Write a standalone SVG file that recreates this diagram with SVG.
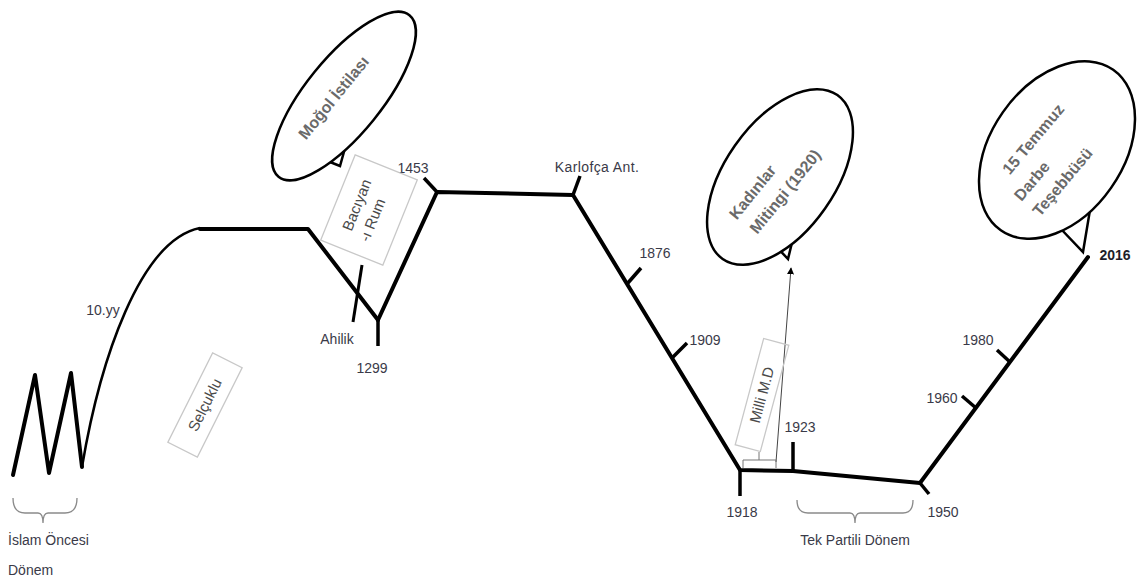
<svg xmlns="http://www.w3.org/2000/svg" width="1142" height="582" viewBox="0 0 1142 582">
<style>
.lbl{font-family:"Liberation Sans",Arial,sans-serif;font-size:14px;fill:#3a3a48}
.big{font-family:"Liberation Sans",Arial,sans-serif;font-size:16px;font-weight:bold;fill:#6a6a6a}
.box{font-family:"Liberation Sans",Arial,sans-serif;font-size:15px;fill:#4a4a4a}
.thick{fill:none;stroke:#000;stroke-width:4;stroke-linejoin:round;stroke-linecap:round}
.tick{fill:none;stroke:#000;stroke-width:3.5;stroke-linecap:butt}
.thin{fill:none;stroke:#000;stroke-width:2.5}
.frame{fill:none;stroke:#c8c8c8;stroke-width:1.3}
.brace{fill:none;stroke:#8a8a8a;stroke-width:1.3}
.bub{fill:#fff;stroke:#000;stroke-width:2.5}
</style>
<defs>
<marker id="ah" viewBox="0 0 10 10" refX="9" refY="5" markerWidth="7" markerHeight="7" orient="auto">
<path d="M0,0 L10,5 L0,10 z" fill="#000"/>
</marker>
</defs>
<rect width="1142" height="582" fill="#fff"/>

<g id="connectors">
<path class="thick" d="M13,475 L35,375 L49,473 L71,373 L82,467"/>
<path class="thin" d="M82,467 C100,360 140,240 200,228"/>
<path class="thick" d="M200,229 L308,229 L378,320"/>
<path class="thick" d="M378,320 L437,192 L573,195 L740,470 L793,471 L920,483 L1088,257"/>
<path class="tick" d="M378,320 L378,346"/>
<path class="tick" d="M437,192 L424,178"/>
<path class="tick" d="M573,195 L580,176"/>
<path class="tick" d="M627,284 L641,268"/>
<path class="tick" d="M672,358 L687,343"/>
<path class="tick" d="M740,470 L740,496"/>
<path class="tick" d="M793,471 L793,442"/>
<path class="tick" d="M920,483 L929,494"/>
<path class="tick" d="M976,408 L962,396"/>
<path class="tick" d="M1010,362 L997,350"/>
<path class="tick" d="M362,265 L353,322" style="stroke-width:3"/>
<path d="M776,462 L791,268" fill="none" stroke="#444" stroke-width="1" marker-end="url(#ah)"/>
<path d="M743,468 V460 H776 V468 M759,460 V452" fill="none" stroke="#777" stroke-width="1"/>
</g>

<g id="brace-islam">
<path class="brace" d="M13,498 Q13,513 25,513 L38,513 Q43,513 43,523 Q43,513 48,513 L65,513 Q77,513 77,498"/>
<text class="lbl" x="8" y="545">İslam Öncesi</text>
<text class="lbl" x="8" y="575">Dönem</text>
</g>

<g id="brace-tek">
<path class="brace" d="M797,500 Q797,513 808,513 L850,513 Q855,513 855,523 Q855,513 860,513 L903,513 Q913,513 913,500"/>
<text class="lbl" x="855" y="545" text-anchor="middle">Tek Partili Dönem</text>
</g>

<g id="labels">
<text class="lbl" x="103" y="315" text-anchor="middle">10.yy</text>
<text class="lbl" x="337" y="344" text-anchor="middle">Ahilik</text>
<text class="lbl" x="372" y="373" text-anchor="middle">1299</text>
<text class="lbl" x="413" y="173" text-anchor="middle">1453</text>
<text class="lbl" x="597" y="172" text-anchor="middle" letter-spacing="0.4">Karlofça Ant.</text>
<text class="lbl" x="655" y="258" text-anchor="middle">1876</text>
<text class="lbl" x="705" y="345" text-anchor="middle">1909</text>
<text class="lbl" x="742" y="517" text-anchor="middle">1918</text>
<text class="lbl" x="800" y="432" text-anchor="middle">1923</text>
<text class="lbl" x="943" y="517" text-anchor="middle">1950</text>
<text class="lbl" x="942" y="403" text-anchor="middle">1960</text>
<text class="lbl" x="978" y="345" text-anchor="middle">1980</text>
<text class="lbl" x="1115" y="260" text-anchor="middle" font-weight="bold" style="fill:#1e1e2a">2016</text>
</g>

<g id="box-selcuklu" transform="translate(205,405) rotate(-63.4)">
<rect class="frame" x="-50" y="-16.5" width="100" height="33"/>
<text class="box" x="0" y="5" text-anchor="middle">Selçuklu</text>
</g>

<g id="box-baciyan">
<rect class="frame" x="-33.5" y="-46" width="67" height="92" transform="translate(369,210) rotate(22)"/>
<g transform="translate(369,210) rotate(-68)">
<text class="box" x="0" y="-8" text-anchor="middle">Bacıyan</text>
<text class="box" x="-8" y="12" text-anchor="middle">-ı Rum</text>
</g>
</g>

<g id="box-milli" transform="translate(762,395) rotate(-75)">
<rect class="frame" x="-55" y="-13" width="110" height="26"/>
<text class="box" x="0" y="5" text-anchor="middle">Milli M.D</text>
</g>

<g id="bubble-mogol">
<polygon class="bub" points="320,158 340,166 345,148"/>
<ellipse class="bub" cx="344" cy="96" rx="104" ry="38" transform="rotate(-51 344 96)"/>
<text class="big" x="334" y="103" text-anchor="middle" transform="rotate(-51 334 98)">Moğol İstilası</text>
</g>

<g id="bubble-kadinlar">
<polygon class="bub" points="770,240 788,259 797,222"/>
<ellipse class="bub" cx="780" cy="177" rx="100" ry="55" transform="rotate(-55 780 177)"/>
<g transform="translate(770,192) rotate(-51)">
<text class="big" x="-11" y="-8" text-anchor="middle">Kadınlar</text>
<text class="big" x="10" y="17" text-anchor="middle">Mitingi (1920)</text>
</g>
</g>

<g id="bubble-temmuz">
<polygon class="bub" points="1060,228 1083,252 1090,210"/>
<ellipse class="bub" cx="1057" cy="150" rx="98" ry="66" transform="rotate(-55 1057 150)"/>
<g transform="translate(1040,180) rotate(-50)">
<text class="big" x="27" y="-26" text-anchor="middle">15 Temmuz</text>
<text class="big" x="-6" y="0" text-anchor="middle">Darbe</text>
<text class="big" x="13" y="24" text-anchor="middle">Teşebbüsü</text>
</g>
</g>
</svg>
